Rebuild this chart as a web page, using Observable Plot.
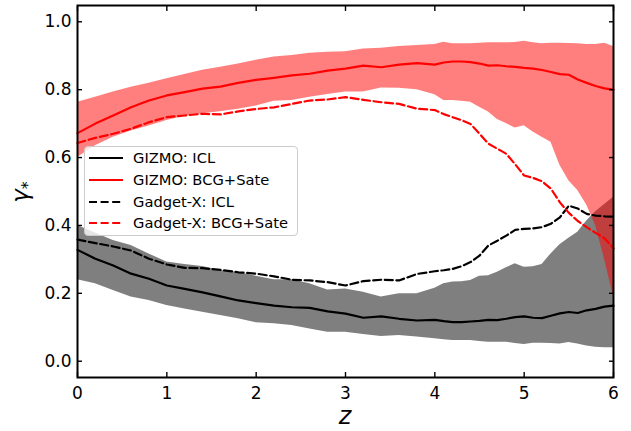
<!DOCTYPE html>
<html>
<head>
<meta charset="utf-8">
<script src="https://cdn.jsdelivr.net/npm/d3@7"></script>
<script src="https://cdn.jsdelivr.net/npm/@observablehq/plot@0.6"></script>
<style>
  html, body { margin: 0; padding: 0; background: #fff; }
  #wrap { position: relative; width: 631px; height: 431px; font-family: "DejaVu Sans", sans-serif; }
  #chart svg { display: block; }
  #legend { position: absolute; left: 84px; top: 146px; width: 214px; height: 90px; box-sizing: border-box;
            background: rgba(255,255,255,0.8); border: 1px solid #cccccc; border-radius: 4px; }
  .row { position: absolute; left: 0; height: 20px; width: 100%; }
  .row svg { position: absolute; left: 4px; top: 0; }
  .row span { position: absolute; left: 48px; top: 0; line-height: 20px; font-size: 14.7px; color: #000; white-space: nowrap; }
</style>
</head>
<body>
<div id="wrap">
  <div id="chart"></div>
  <div id="legend"></div>
</div>
<script>
// redshift grid
const zGrid = [0,0.2,0.4,0.6,0.8,1.0,1.2,1.4,1.6,1.8,2.0,2.2,2.4,2.6,2.8,3.0,3.2,3.4,3.6,3.8,4.0,
               4.1,4.2,4.3,4.4,4.5,4.6,4.7,4.8,4.9,5.0,5.1,5.2,5.3,5.4,5.5,5.6,5.7,5.8,5.9,6.0];

// GIZMO: ICL (median and band)
const gizmoIclMid = [0.328,0.302,0.282,0.258,0.243,0.223,0.213,0.203,0.191,0.179,0.171,0.164,0.159,0.157,0.147,0.140,0.128,0.132,0.125,0.120,0.122,
                     0.118,0.115,0.115,0.117,0.119,0.122,0.121,0.125,0.130,0.132,0.128,0.127,0.134,0.141,0.145,0.142,0.150,0.154,0.161,0.164];
const gizmoIclHi  = [0.400,0.378,0.356,0.341,0.316,0.292,0.285,0.279,0.267,0.262,0.250,0.240,0.240,0.228,0.210,0.213,0.203,0.189,0.199,0.199,0.215,
                     0.228,0.233,0.234,0.238,0.250,0.252,0.262,0.275,0.287,0.277,0.278,0.285,0.316,0.343,0.362,0.380,0.413,0.440,0.462,0.483];
const gizmoIclLo  = [0.240,0.228,0.208,0.189,0.179,0.164,0.154,0.144,0.135,0.125,0.113,0.110,0.105,0.095,0.085,0.085,0.079,0.073,0.076,0.071,0.066,
                     0.063,0.061,0.061,0.061,0.058,0.056,0.056,0.056,0.052,0.049,0.053,0.053,0.052,0.051,0.055,0.051,0.045,0.041,0.040,0.040];

// GIZMO: BCG+Sate (median and band)
const gizmoBcgMid = [0.672,0.700,0.724,0.748,0.768,0.783,0.793,0.803,0.809,0.820,0.829,0.835,0.842,0.847,0.856,0.862,0.871,0.866,0.874,0.878,0.874,
                     0.880,0.883,0.883,0.881,0.877,0.871,0.872,0.869,0.867,0.864,0.862,0.858,0.852,0.846,0.844,0.830,0.820,0.811,0.804,0.800];
const gizmoBcgHi  = [0.763,0.778,0.793,0.807,0.819,0.832,0.845,0.857,0.866,0.876,0.887,0.896,0.901,0.907,0.910,0.912,0.920,0.922,0.927,0.930,0.933,
                     0.940,0.935,0.935,0.935,0.937,0.938,0.938,0.938,0.939,0.943,0.938,0.935,0.937,0.937,0.936,0.935,0.933,0.933,0.937,0.927];
const gizmoBcgLo  = [0.600,0.635,0.660,0.678,0.693,0.709,0.722,0.729,0.735,0.742,0.752,0.766,0.768,0.778,0.786,0.793,0.793,0.805,0.804,0.800,0.785,
                     0.768,0.768,0.766,0.763,0.748,0.734,0.712,0.700,0.687,0.694,0.675,0.660,0.645,0.577,0.532,0.503,0.460,0.400,0.300,0.190];

// Gadget-X medians
const gadgetIcl = [0.358,0.348,0.338,0.326,0.302,0.285,0.275,0.274,0.269,0.262,0.258,0.250,0.240,0.238,0.233,0.223,0.236,0.240,0.238,0.257,0.265,
                   0.268,0.272,0.280,0.292,0.311,0.341,0.355,0.370,0.387,0.390,0.391,0.395,0.405,0.424,0.458,0.450,0.434,0.429,0.427,0.426];
const gadgetBcg = [0.643,0.658,0.670,0.685,0.704,0.719,0.724,0.729,0.727,0.736,0.743,0.748,0.758,0.768,0.771,0.778,0.770,0.763,0.758,0.744,0.740,
                   0.728,0.719,0.710,0.699,0.670,0.641,0.626,0.611,0.580,0.547,0.540,0.530,0.508,0.468,0.437,0.413,0.395,0.378,0.362,0.333];

const xTicks = [0,1,2,3,4,5,6];
const yTicks = [0.0,0.2,0.4,0.6,0.8,1.0];
const legendLabels = ["GIZMO: ICL","GIZMO: BCG+Sate","Gadget-X: ICL","Gadget-X: BCG+Sate"];
const legendColors = ["black","red","black","red"];
const legendDashed = [false,false,true,true];

const rows = zGrid.map((z, i) => ({
  z,
  iclMid: gizmoIclMid[i], iclHi: gizmoIclHi[i], iclLo: gizmoIclLo[i],
  bcgMid: gizmoBcgMid[i], bcgHi: gizmoBcgHi[i], bcgLo: gizmoBcgLo[i],
  gxIcl: gadgetIcl[i], gxBcg: gadgetBcg[i]
}));

const LW = 2.2, DASH = "8,3.6";
const chart = Plot.plot({
  width: 631, height: 431,
  marginLeft: 77, marginRight: 18, marginTop: 5, marginBottom: 54,
  x: {domain: [0, 6], label: null},
  y: {domain: [-0.048, 1.048], label: null},
  style: {fontFamily: "DejaVu Sans, sans-serif", fontSize: "17px", color: "black", background: "white"},
  marks: [
    Plot.areaY(rows, {x: "z", y1: "iclLo", y2: "iclHi", fill: "black", fillOpacity: 0.5}),
    Plot.areaY(rows, {x: "z", y1: "bcgLo", y2: "bcgHi", fill: "red", fillOpacity: 0.5}),
    Plot.lineY(rows, {x: "z", y: "iclMid", stroke: "black", strokeWidth: LW}),
    Plot.lineY(rows, {x: "z", y: "bcgMid", stroke: "red", strokeWidth: LW}),
    Plot.lineY(rows, {x: "z", y: "gxIcl", stroke: "black", strokeWidth: LW, strokeDasharray: DASH}),
    Plot.lineY(rows, {x: "z", y: "gxBcg", stroke: "red", strokeWidth: LW, strokeDasharray: DASH}),
    Plot.frame({stroke: "black", strokeWidth: 2}),
    Plot.axisX(xTicks, {anchor: "bottom", tickSize: 5, dy: -5, strokeWidth: 1.4, tickFormat: () => "", label: null}),
    Plot.axisX(xTicks, {anchor: "top", tickSize: 5, dy: 5, strokeWidth: 1.4, tickFormat: () => "", label: null}),
    Plot.axisX(xTicks, {anchor: "bottom", tickSize: 0, tickPadding: 9, fontSize: 17, tickFormat: d => String(d), label: null}),
    Plot.axisY(yTicks, {anchor: "left", tickSize: 5, dx: 5, strokeWidth: 1.4, tickFormat: () => "", label: null}),
    Plot.axisY(yTicks, {anchor: "right", tickSize: 5, dx: -5, strokeWidth: 1.4, tickFormat: () => "", label: null}),
    Plot.axisY(yTicks, {anchor: "left", tickSize: 0, tickPadding: 6, fontSize: 17, tickFormat: d => d.toFixed(1), label: null})
  ]
});
document.getElementById("chart").appendChild(chart);

// axis titles as real text
const svg = d3.select(chart);
svg.append("text")
  .attr("x", 345).attr("y", 424)
  .attr("text-anchor", "middle")
  .attr("font-family", "DejaVu Sans, sans-serif")
  .attr("font-style", "italic")
  .attr("font-size", 24)
  .attr("fill", "black")
  .text("z");
const yl = svg.append("text")
  .attr("transform", "translate(28,192) rotate(-90)")
  .attr("text-anchor", "middle")
  .attr("font-family", "DejaVu Sans, sans-serif")
  .attr("font-size", 23)
  .attr("fill", "black");
yl.append("tspan").attr("font-style", "italic").text("γ");
yl.append("tspan").attr("font-size", 16).attr("dy", 5).text("*");

// legend
const leg = d3.select("#legend");
const rowTops = [1, 23, 45, 66];
legendLabels.forEach((lab, i) => {
  const r = leg.append("div").attr("class", "row").style("top", rowTops[i] + "px");
  const s = r.append("svg").attr("width", 36).attr("height", 20);
  s.append("line").attr("x1", 0).attr("x2", 34).attr("y1", 10).attr("y2", 10)
    .attr("stroke", legendColors[i]).attr("stroke-width", LW)
    .attr("stroke-dasharray", legendDashed[i] ? DASH : null);
  r.append("span").text(lab);
});
</script>
</body>
</html>
